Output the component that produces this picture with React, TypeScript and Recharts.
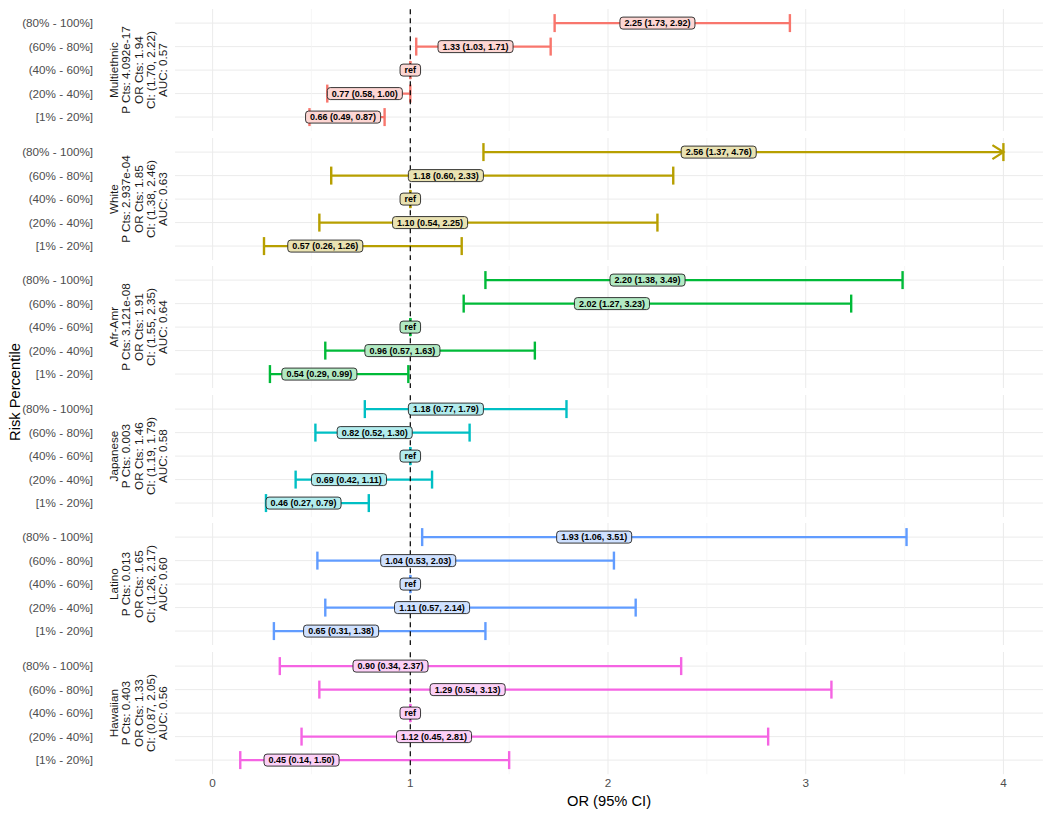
import React from 'react';
import { ScatterChart, Scatter, XAxis, YAxis, CartesianGrid, ReferenceLine, ErrorBar } from 'recharts';

const FONT = "'Liberation Sans', Arial, Helvetica, sans-serif";

// rows are bottom -> top
const PERCENTILES = ['[1% - 20%]', '(20% - 40%]', '(40% - 60%]', '(60% - 80%]', '(80% - 100%]'];
const REF_INDEX = 2;
const X_MAX = 4;

const GROUPS = ['Multiethnic', 'White', 'Afr-Amr', 'Japanese', 'Latino', 'Hawaiian'];
const COLORS = ['#F8766D', '#B79F00', '#00BA38', '#00BFC4', '#619CFF', '#F564E3'];

const P_CTS = ['4.092e-17', '2.937e-04', '3.121e-08', '0.003', '0.013', '0.403'];
const OR_CTS = [1.94, 1.85, 1.91, 1.46, 1.65, 1.33];
const CI_CTS_LO = [1.7, 1.38, 1.55, 1.19, 1.26, 0.87];
const CI_CTS_HI = [2.22, 2.46, 2.35, 1.79, 2.17, 2.05];
const AUC = [0.57, 0.63, 0.64, 0.58, 0.6, 0.56];

const multiethnicOR = [0.66, 0.77, 1, 1.33, 2.25];
const multiethnicLo = [0.49, 0.58, 1, 1.03, 1.73];
const multiethnicHi = [0.87, 1.0, 1, 1.71, 2.92];

const whiteOR = [0.57, 1.1, 1, 1.18, 2.56];
const whiteLo = [0.26, 0.54, 1, 0.6, 1.37];
const whiteHi = [1.26, 2.25, 1, 2.33, 4.76];

const afrAmrOR = [0.54, 0.96, 1, 2.02, 2.2];
const afrAmrLo = [0.29, 0.57, 1, 1.27, 1.38];
const afrAmrHi = [0.99, 1.63, 1, 3.23, 3.49];

const japaneseOR = [0.46, 0.69, 1, 0.82, 1.18];
const japaneseLo = [0.27, 0.42, 1, 0.52, 0.77];
const japaneseHi = [0.79, 1.11, 1, 1.3, 1.79];

const latinoOR = [0.65, 1.11, 1, 1.04, 1.93];
const latinoLo = [0.31, 0.57, 1, 0.53, 1.06];
const latinoHi = [1.38, 2.14, 1, 2.03, 3.51];

const hawaiianOR = [0.45, 1.12, 1, 1.29, 0.9];
const hawaiianLo = [0.14, 0.45, 1, 0.54, 0.34];
const hawaiianHi = [1.5, 2.81, 1, 3.13, 2.37];

const OR_BY_GROUP = [multiethnicOR, whiteOR, afrAmrOR, japaneseOR, latinoOR, hawaiianOR];
const LO_BY_GROUP = [multiethnicLo, whiteLo, afrAmrLo, japaneseLo, latinoLo, hawaiianLo];
const HI_BY_GROUP = [multiethnicHi, whiteHi, afrAmrHi, japaneseHi, latinoHi, hawaiianHi];

const X_TICKS = [0, 1, 2, 3, 4];
const X_MINOR = [0.5, 1.5, 2.5, 3.5];
const Y_TICKS = [1, 2, 3, 4, 5];

// layout
const CHART_W = 1050;
const Y_AXIS_W = 175;
const PANEL_TOP = 8.9;
const PANEL_STEP = 128.6;
const PANEL_H = 122.2;
const TOTAL_H = 813;

const fmt = (v: number) => v.toFixed(2);

const CHAR_W: Record<string, number> = { '.': 0.278, ',': 0.278, ' ': 0.278, '(': 0.333, ')': 0.333, r: 0.389, e: 0.556, f: 0.333 };
const textWidth = (s: string, size: number) =>
  s.split('').reduce((a, c) => a + (CHAR_W[c] ?? 0.556), 0) * size;

function buildRows(g: number) {
  return PERCENTILES.map((_, i) => {
    const or = OR_BY_GROUP[g][i];
    const lo = LO_BY_GROUP[g][i];
    const hi = HI_BY_GROUP[g][i];
    return {
      y: i + 1,
      or,
      err: [or - lo, Math.min(hi, X_MAX) - or],
      label: i === REF_INDEX ? 'ref' : `${fmt(or)} (${fmt(lo)}, ${fmt(hi)})`,
    };
  });
}

function arrowRows(g: number) {
  return PERCENTILES.map((_, i) => ({ y: i + 1, or: X_MAX, hi: HI_BY_GROUP[g][i] })).filter((r) => r.hi > X_MAX);
}

function PointLabel(props: any) {
  const { cx, cy, payload, color } = props;
  const size = 9;
  const w = textWidth(payload.label, size) + 9;
  const h = 12;
  return (
    <g>
      <rect x={cx - w / 2} y={cy - h / 2} width={w} height={h} rx={3} fill="#fff" />
      <rect x={cx - w / 2} y={cy - h / 2} width={w} height={h} rx={3} fill={color} fillOpacity={0.3} stroke="#222" strokeWidth={0.9} />
      <text x={cx} y={cy + 3.3} textAnchor="middle" fontSize={size} fontWeight="bold" fill="#000">
        {payload.label}
      </text>
    </g>
  );
}

function ArrowHead(props: any) {
  const { cx, cy, color } = props;
  return <polyline points={`${cx - 11},${cy - 7} ${cx},${cy} ${cx - 11},${cy + 7}`} fill="none" stroke={color} strokeWidth={2.3} />;
}

function StripText({ viewBox, lines }: any) {
  const cx = viewBox.x + 138.5;
  const cy = viewBox.y + viewBox.height / 2;
  const step = 12.2;
  const n = lines.length;
  return (
    <text transform={`rotate(-90, ${cx}, ${cy})`} textAnchor="middle" fontSize={11.7} fill="#1A1A1A">
      {lines.map((l: string, k: number) => (
        <tspan key={k} x={cx} y={cy + (k - (n - 1) / 2) * step + 4.1}>
          {l}
        </tspan>
      ))}
    </text>
  );
}

function Panel({ g }: { g: number }) {
  const last = g === GROUPS.length - 1;
  const color = COLORS[g];
  const rows = buildRows(g);
  const arrows = arrowRows(g);
  const top = PANEL_TOP + g * PANEL_STEP;
  const height = last ? TOTAL_H - top : PANEL_H;
  const strip = [
    GROUPS[g],
    `P Cts: ${P_CTS[g]}`,
    `OR Cts: ${fmt(OR_CTS[g])}`,
    `CI: (${fmt(CI_CTS_LO[g])}, ${fmt(CI_CTS_HI[g])})`,
    `AUC: ${fmt(AUC[g])}`,
  ];
  return (
    <div style={{ position: 'absolute', left: 0, top }}>
      <ScatterChart width={CHART_W} height={height} margin={{ top: 0, right: 7, bottom: 0, left: 0 }}>
        <CartesianGrid stroke="#EBEBEB" strokeWidth={1} verticalValues={X_TICKS} horizontalValues={Y_TICKS} />
        {X_MINOR.map((v) => (
          <ReferenceLine key={v} x={v} stroke="#F2F2F2" strokeWidth={0.7} />
        ))}
        <XAxis
          type="number"
          dataKey="or"
          domain={[-0.19, 4.2]}
          allowDataOverflow
          ticks={X_TICKS}
          hide={!last}
          height={TOTAL_H - (PANEL_TOP + g * PANEL_STEP) - PANEL_H}
          tickLine={false}
          axisLine={false}
          tickSize={0}
          tickMargin={4}
          tick={{ fill: '#4D4D4D', fontSize: 11.7 }}
          label={{ value: 'OR (95% CI)', position: 'insideBottom', offset: 7, fill: '#000', fontSize: 14.7 }}
        />
        <YAxis
          type="number"
          dataKey="y"
          domain={[0.4, 5.6]}
          allowDataOverflow
          ticks={Y_TICKS}
          interval={0}
          width={Y_AXIS_W}
          tickLine={false}
          axisLine={false}
          tickSize={0}
          tickMargin={82}
          tick={{ fill: '#4D4D4D', fontSize: 11.7 }}
          tickFormatter={(v: number) => PERCENTILES[v - 1]}
          label={{ position: 'center', content: (p: any) => <StripText viewBox={p.viewBox} lines={strip} /> }}
        />
        <Scatter data={rows} isAnimationActive={false} shape={() => <g />}>
          <ErrorBar dataKey="err" direction="x" width={9} stroke={color} strokeWidth={2.4} isAnimationActive={false} />
        </Scatter>
        <ReferenceLine x={1} stroke="#000" strokeWidth={1.2} strokeDasharray="5 4" />
        <Scatter data={arrows} isAnimationActive={false} shape={(p: any) => <ArrowHead {...p} color={color} />} />
        <Scatter data={rows} isAnimationActive={false} shape={(p: any) => <PointLabel {...p} color={color} />} />
      </ScatterChart>
    </div>
  );
}

export default function App() {
  return (
    <div style={{ position: 'absolute', left: 0, top: 0, width: CHART_W, height: TOTAL_H, background: '#fff', fontFamily: FONT }}>
      {GROUPS.map((_, g) => (
        <Panel key={g} g={g} />
      ))}
      <div
        style={{
          position: 'absolute',
          left: 15,
          top: 392,
          transform: 'translate(-50%, -50%) rotate(-90deg)',
          whiteSpace: 'nowrap',
          fontSize: 14.7,
          color: '#000',
        }}
      >
        Risk Percentile
      </div>
    </div>
  );
}
